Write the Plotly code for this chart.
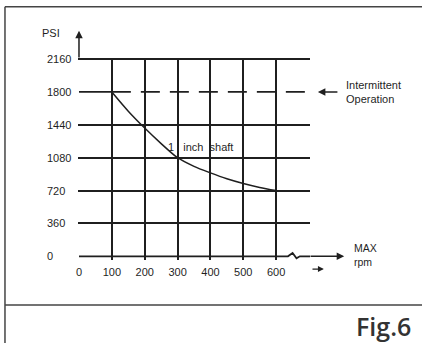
import plotly.graph_objects as go

# ---- data ----
rpm = [100, 150, 200, 250, 300, 350, 400, 450, 500, 550, 600]
psi = [1800, 1590, 1405, 1235, 1080, 985, 914, 850, 798, 755, 720]
intermittent_rpm = [100, 700]
intermittent_psi = [1800, 1800]
x_ticks = [0, 100, 200, 300, 400, 500, 600, 700]
x_tick_labels = ["0", "100", "200", "300", "400", "500", "600", ""]
y_ticks = [0, 360, 720, 1080, 1440, 1800, 2160]
y_tick_labels = ["0", "360", "720", "1080", "1440", "1800", "2160"]
y_grid = [360, 720, 1080, 1440, 2160]      # 1800 row is solid only up to 100 rpm
row_1800_x = [0, 100]
row_1800_y = [1800, 1800]
# x axis baseline with break symbol between 600 and 700
axis_x = [0, 636, 650, 662, 672, 703]
axis_y = [0, 0, 36, -22, 0, 0]

W, H = 422, 343
X0_PX, X700_PX = 79.0, 309.0
Y0_PX, Y2160_PX = 256.0, 59.3
sx = (X700_PX - X0_PX) / 700.0
sy = (Y0_PX - Y2160_PX) / 2160.0
XR = [-3, 703]
YR = [-40, 2172]
L = X0_PX + XR[0] * sx
R = W - (X0_PX + XR[1] * sx)
T = Y0_PX - YR[1] * sy
B = H - (Y0_PX - YR[0] * sy)
pw, ph = W - L - R, H - T - B

def px_to_paper_x(px):
    return (px - L) / pw

def py_to_paper_y(py):
    return (H - B - py) / ph

def dx(v):
    return (v - XR[0]) / (XR[1] - XR[0])

def dy(v):
    return (v - YR[0]) / (YR[1] - YR[0])

ink = "#1f1f1f"
GW = 1.8
cad_font = "Liberation Sans Narrow, Arial Narrow, Liberation Sans, Arial"
tick_font = dict(family="Liberation Sans, Arial", size=11, color=ink)

fig = go.Figure()

fig.add_trace(go.Scatter(x=axis_x, y=axis_y, mode="lines",
                         line=dict(color=ink, width=GW),
                         hoverinfo="skip", showlegend=False))
fig.add_trace(go.Scatter(x=row_1800_x, y=row_1800_y, mode="lines",
                         line=dict(color=ink, width=GW),
                         hoverinfo="skip", showlegend=False))
fig.add_trace(go.Scatter(x=intermittent_rpm, y=intermittent_psi, mode="lines",
                         line=dict(color=ink, width=GW, dash="19px,10px"),
                         showlegend=False))
fig.add_trace(go.Scatter(x=rpm, y=psi, mode="lines",
                         line=dict(color=ink, width=1.5, shape="spline", smoothing=0.8),
                         showlegend=False))

def arrow(x_head, y_head, x_tail, y_tail, size=1.0, width=1.3):
    return dict(x=dx(x_head), y=dy(y_head), xref="x domain", yref="y domain",
                ax=dx(x_tail), ay=dy(y_tail), axref="x domain", ayref="y domain",
                showarrow=True, arrowhead=2, arrowsize=size, arrowwidth=width,
                arrowcolor=ink, text="", standoff=0, startstandoff=0)

NB = "\u00a0"
annotations = []
for v, t in zip(y_ticks, y_tick_labels):
    annotations.append(dict(x=px_to_paper_x(45), xref="paper", y=dy(v), yref="paper",
                            text=t, showarrow=False, xanchor="left", yanchor="middle",
                            font=tick_font))
annotations.append(arrow(0, 2470, 0, 2160, width=1.5))
annotations.append(arrow(807, 0, 700, 0, width=1.5))
annotations.append(dict(x=px_to_paper_x(40), xref="paper", y=py_to_paper_y(33), yref="paper",
                        text="PSI", showarrow=False, xanchor="left", yanchor="middle",
                        font=tick_font))
annotations.append(arrow(727, 1800, 791, 1800, width=1.5))
annotations.append(dict(x=dx(806), y=dy(1795), xref="paper", yref="paper",
                        text="Intermittent<br>Operation",
                        showarrow=False, xanchor="left", yanchor="middle", align="left",
                        font=dict(family=cad_font, size=11, color=ink)))
annotations.append(dict(x=px_to_paper_x(166), y=dy(1196), xref="paper", yref="paper",
                        text="1" + NB * 3 + "inch" + NB * 2 + "shaft",
                        showarrow=False, xanchor="left", yanchor="middle",
                        font=dict(family=cad_font, size=11, color=ink)))
annotations.append(dict(x=dx(831), y=dy(16), xref="paper", yref="paper", text="MAX<br>rpm",
                        showarrow=False, xanchor="left", yanchor="middle", align="left",
                        font=dict(family=cad_font, size=10.5, color=ink)))
annotations.append(arrow(745, -139, 706, -139, size=0.9, width=1.3))
annotations.append(dict(x=px_to_paper_x(413), xref="paper", y=py_to_paper_y(325), yref="paper",
                        text="Fig.6", showarrow=False, xanchor="right", yanchor="middle",
                        font=dict(family="Open Sans", size=25, color="#333333", weight=600)))

shapes = [
    dict(type="line", xref="paper", yref="paper",
         x0=px_to_paper_x(5), x1=px_to_paper_x(5), y0=py_to_paper_y(7), y1=py_to_paper_y(345),
         line=dict(color="#444444", width=1.5)),
    dict(type="line", xref="paper", yref="paper",
         x0=px_to_paper_x(5), x1=px_to_paper_x(424), y0=py_to_paper_y(7), y1=py_to_paper_y(7),
         line=dict(color="#444444", width=1.5)),
    dict(type="line", xref="paper", yref="paper",
         x0=px_to_paper_x(5), x1=px_to_paper_x(424), y0=py_to_paper_y(304.5), y1=py_to_paper_y(304.5),
         line=dict(color="#444444", width=1.5)),
]

fig.update_layout(
    width=W, height=H, margin=dict(l=L, r=R, t=T, b=B, pad=0),
    paper_bgcolor="white", plot_bgcolor="white",
    showlegend=False, annotations=annotations, shapes=shapes,
    xaxis=dict(range=XR, tickvals=x_ticks, ticktext=x_tick_labels,
               showgrid=True, gridcolor=ink, gridwidth=GW, zeroline=False,
               showline=False, ticks="outside", ticklen=2, tickcolor="rgba(0,0,0,0)",
               tickfont=tick_font, fixedrange=True),
    yaxis=dict(range=YR, tickvals=y_grid, showticklabels=False,
               showgrid=True, gridcolor=ink, gridwidth=GW, zeroline=False,
               showline=False, fixedrange=True),
)

fig.write_html("out.html", config={"displayModeBar": False},
               post_script="document.body.style.margin='0';document.body.style.overflow='hidden';")
